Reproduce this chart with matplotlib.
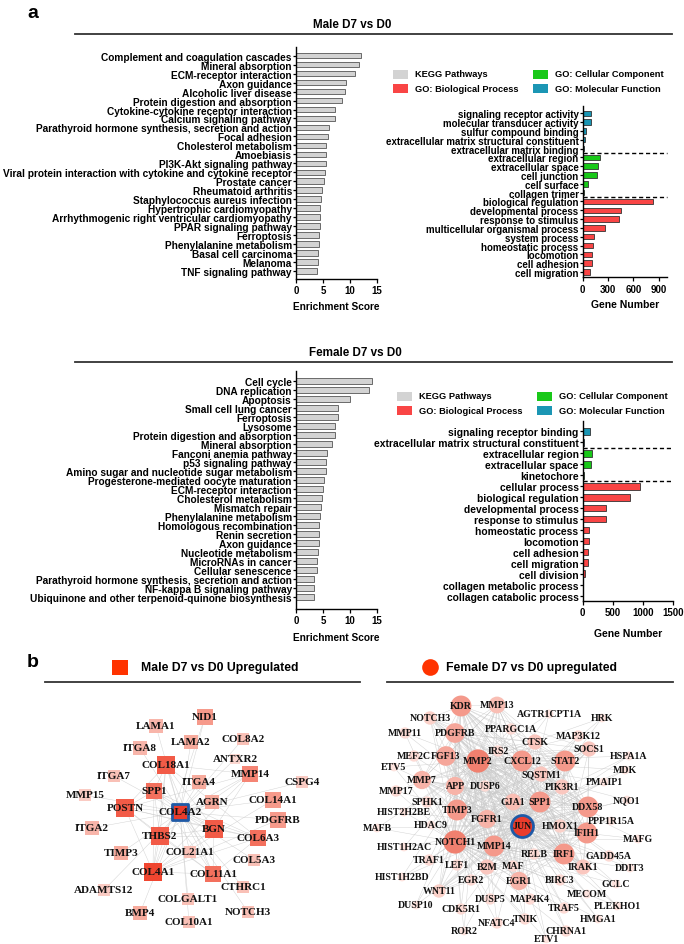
import numpy as np
import matplotlib
matplotlib.use('Agg')
import matplotlib.pyplot as plt
from matplotlib.patches import Rectangle
from matplotlib.collections import LineCollection
from matplotlib.colors import LinearSegmentedColormap

W, H = 684, 945

# ---------------- data: panel a ----------------
male_kegg = ["Complement and coagulation cascades", "Mineral absorption", "ECM-receptor interaction",
             "Axon guidance", "Alcoholic liver disease", "Protein digestion and absorption",
             "Cytokine-cytokine receptor interaction", "Calcium signaling pathway",
             "Parathyroid hormone synthesis, secretion and action", "Focal adhesion",
             "Cholesterol metabolism", "Amoebiasis", "PI3K-Akt signaling pathway",
             "Viral protein interaction with cytokine and cytokine receptor", "Prostate cancer",
             "Rheumatoid arthritis", "Staphylococcus aureus infection", "Hypertrophic cardiomyopathy",
             "Arrhythmogenic right ventricular cardiomyopathy", "PPAR signaling pathway", "Ferroptosis",
             "Phenylalanine metabolism", "Basal cell carcinoma", "Melanoma", "TNF signaling pathway"]
male_kegg_score = [12.1, 11.6, 10.9, 9.2, 9.1, 8.6, 7.3, 7.3, 6.1, 6.0, 5.6, 5.6, 5.5, 5.3, 5.1,
                   4.8, 4.7, 4.5, 4.5, 4.5, 4.3, 4.2, 4.15, 4.0, 3.9]

female_kegg = ["Cell cycle", "DNA replication", "Apoptosis", "Small cell lung cancer", "Ferroptosis",
               "Lysosome", "Protein digestion and absorption", "Mineral absorption",
               "Fanconi anemia pathway", "p53 signaling pathway",
               "Amino sugar and nucleotide sugar metabolism", "Progesterone-mediated oocyte maturation",
               "ECM-receptor interaction", "Cholesterol metabolism", "Mismatch repair",
               "Phenylalanine metabolism", "Homologous recombination", "Renin secretion",
               "Axon guidance", "Nucleotide metabolism", "MicroRNAs in cancer", "Cellular senescence",
               "Parathyroid hormone synthesis, secretion and action", "NF-kappa B signaling pathway",
               "Ubiquinone and other terpenoid-quinone biosynthesis"]
female_kegg_score = [14.1, 13.5, 10.0, 7.75, 7.7, 7.3, 7.25, 6.6, 5.8, 5.6, 5.6, 5.1, 5.0, 4.9, 4.7,
                     4.5, 4.3, 4.3, 4.3, 4.0, 3.85, 3.8, 3.4, 3.4, 3.3]

male_go = ["signaling receptor activity", "molecular transducer activity", "sulfur compound binding",
           "extracellular matrix structural constituent", "extracellular matrix binding",
           "extracellular region", "extracellular space", "cell junction", "cell surface",
           "collagen trimer", "biological regulation", "developmental process", "response to stimulus",
           "multicellular organismal process", "system process", "homeostatic process", "locomotion",
           "cell adhesion", "cell migration"]
male_go_count = [95, 95, 43, 32, 12, 200, 185, 175, 67, 12, 837, 454, 430, 260, 138, 126, 115, 110, 91]
male_go_type = ["MF"] * 5 + ["CC"] * 5 + ["BP"] * 9

female_go = ["signaling receptor binding", "extracellular matrix structural constituent",
             "extracellular region", "extracellular space", "kinetochore", "cellular process",
             "biological regulation", "developmental process", "response to stimulus",
             "homeostatic process", "locomotion", "cell adhesion", "cell migration", "cell division",
             "collagen metabolic process", "collagen catabolic process"]
female_go_count = [122, 22, 160, 144, 22, 957, 791, 393, 393, 110, 100, 94, 83, 44, 3, 2]
female_go_type = ["MF"] * 2 + ["CC"] * 3 + ["BP"] * 11

colors = {"KEGG": "#d3d3d3", "BP": "#f94545", "CC": "#19c819", "MF": "#1b96b4"}
legend_names = [("KEGG", "KEGG Pathways"), ("BP", "GO: Biological Process"),
                ("CC", "GO: Cellular Component"), ("MF", "GO: Molecular Function")]

# ---------------- data: panel b (network layouts) ----------------
male_genes = ["COL4A2", "NID1", "LAMA1", "COL8A2", "LAMA2", "ITGA8", "ANTXR2", "COL18A1", "MMP14",
              "ITGA7", "CSPG4", "ITGA4", "SPP1", "MMP15", "COL14A1", "AGRN", "POSTN", "PDGFRB",
              "ITGA2", "BGN", "THBS2", "COL6A3", "TIMP3", "COL21A1", "COL5A3", "COL4A1", "COL11A1",
              "CTHRC1", "ADAMTS12", "COLGALT1", "BMP4", "NOTCH3", "COL10A1"]
male_x = [180, 205, 156, 243, 191, 140, 235, 166, 250, 114, 302, 199, 154, 85, 273, 212, 125, 278,
          92, 214, 160, 258, 121, 190, 254, 153, 213, 243, 104, 188, 140, 248, 189]
male_y = [813, 718, 727, 740, 743, 749, 760, 766, 775, 777, 783, 783, 792, 796, 801, 803, 809, 821,
          829, 830, 837, 839, 854, 853, 861, 873, 875, 888, 891, 900, 914, 913, 923]
male_deg = [12, 6, 4, 3, 5, 4, 1, 9, 7, 3, 2, 5, 8, 2, 6, 5, 9, 6, 4, 9, 9, 8, 5, 3, 3, 10, 8, 3,
            2, 3, 5, 3, 3]

female_genes = ["JUN", "KDR", "MMP13", "NOTCH3", "AGTR1CPT1A", "HRK", "MMP11", "PDGFRB", "PPARGC1A",
                "MAP3K12", "CTSK", "SOCS1", "IRS2", "MEF2C", "FGF13", "MMP2", "CXCL12", "STAT2",
                "HSPA1A", "ETV5", "MDK", "SQSTM1", "MMP7", "APP", "DUSP6", "PIK3R1", "PMAIP1",
                "MMP17", "NQO1", "SPHK1", "GJA1", "SPP1", "DDX58", "HIST2H2BE", "TIMP3", "FGFR1",
                "PPP1R15A", "MAFB", "HDAC9", "HMOX1", "IFIH1", "MAFG", "NOTCH1", "MMP14",
                "HIST1H2AC", "RELB", "IRF1", "GADD45A", "TRAF1", "LEF1", "B2M", "MAF", "IRAK1",
                "DDIT3", "HIST1H2BD", "EGR2", "EGR1", "BIRC3", "GCLC", "WNT11", "MECOM", "DUSP5",
                "MAP4K4", "DUSP10", "CDK5R1", "TRAF5", "PLEKHO1", "TNIK", "HMGA1", "NFATC4", "ROR2",
                "CHRNA1", "ETV1"]
female_x = [522, 461, 497, 430, 549, 602, 405, 455, 511, 578, 535, 589, 498, 414, 446, 478, 522,
            565, 629, 394, 625, 541, 422, 455, 485, 562, 604, 396, 627, 427, 513, 540, 588, 404,
            457, 487, 611, 377, 431, 560, 587, 638, 455, 494, 404, 534, 564, 609, 429, 457, 487,
            513, 583, 630, 402, 471, 519, 560, 616, 439, 587, 490, 530, 416, 461, 564, 617, 525,
            598, 497, 464, 566, 546]
female_y = [827, 707, 706, 719, 715, 719, 734, 734, 730, 737, 743, 750, 752, 757, 757, 762, 762,
            762, 757, 768, 771, 775, 781, 787, 787, 788, 783, 792, 801, 803, 803, 803, 808, 813,
            811, 820, 822, 829, 826, 827, 834, 840, 843, 847, 848, 855, 855, 857, 861, 866, 868,
            867, 868, 869, 878, 881, 882, 881, 885, 892, 895, 900, 900, 906, 910, 909, 907, 920,
            920, 924, 932, 932, 940]
female_deg = [12, 8, 5, 3, 1, 1, 2, 7, 2, 2, 4, 4, 2, 2, 7, 10, 8, 8, 1, 1, 1, 4, 6, 6, 2, 4, 1,
              2, 1, 2, 5, 8, 8, 1, 8, 6, 1, 1, 1, 3, 8, 1, 10, 8, 1, 2, 8, 2, 2, 2, 4, 2, 4, 1, 1,
              2, 6, 2, 1, 3, 1, 2, 2, 1, 2, 2, 1, 2, 1, 2, 1, 2, 1]

sans = ['Liberation Sans', 'DejaVu Sans']
serif = ['Liberation Serif', 'DejaVu Serif']
plt.rcParams['font.family'] = sans
plt.rcParams['font.weight'] = 'bold'


def box(x0, y0, x1, y1):
    return [x0 / W, 1 - y1 / H, (x1 - x0) / W, (y1 - y0) / H]


def fx(x):
    return x / W


def fy(y):
    return 1 - y / H


def style_axes(ax, label_size):
    for s in ['top', 'right']:
        ax.spines[s].set_visible(False)
    for s in ['left', 'bottom']:
        ax.spines[s].set_linewidth(1.0)
    ax.tick_params(axis='y', length=2.5, width=0.9, pad=0.5, labelsize=label_size)
    ax.tick_params(axis='x', length=3, width=0.9, pad=1.5, labelsize=7.0)
    for t in ax.get_xticklabels() + ax.get_yticklabels():
        t.set_fontweight('bold')


def kegg_plot(rect, terms, scores, ylim, xlabel_pad):
    ax = fig.add_axes(box(*rect))
    y = np.arange(len(terms))
    ax.barh(y, scores, height=0.62, color=colors["KEGG"], edgecolor='#555555', linewidth=0.6)
    ax.set_yticks(y)
    ax.set_yticklabels(terms)
    ax.set_ylim(*ylim)
    ax.set_xlim(0, 15)
    ax.set_xticks([0, 5, 10, 15])
    ax.set_xlabel("Enrichment Score", fontsize=7.3, fontweight='bold', labelpad=xlabel_pad)
    style_axes(ax, 7.3)
    return ax


def go_plot(rect, terms, counts, types, ylim, xmax, xticks, breaks, xlabel_pad, label_size):
    ax = fig.add_axes(box(*rect))
    y = np.arange(len(terms))
    ax.barh(y, counts, height=0.62, color=[colors[t] for t in types], edgecolor='#333333',
            linewidth=0.6)
    for b in breaks:
        ax.axhline(b, color='black', lw=1.0, ls=(0, (3, 2)), clip_on=False)
    ax.set_yticks(y)
    ax.set_yticklabels(terms)
    ax.set_ylim(*ylim)
    ax.set_xlim(0, xmax)
    ax.set_xticks(xticks)
    ax.set_xlabel("Gene Number", fontsize=7.5, fontweight='bold', labelpad=xlabel_pad)
    style_axes(ax, label_size)
    return ax


def legend(x0, x1, y0):
    # two columns, two rows
    for i, (key, name) in enumerate(legend_names):
        col, row = divmod(i, 2)
        xx = x0 if col == 0 else x1
        yy = y0 + row * 14.5
        fig.add_artist(Rectangle((fx(xx), fy(yy + 4.5)), 15 / W, 9 / H, transform=fig.transFigure,
                                 facecolor=colors[key], edgecolor='none'))
        fig.text(fx(xx + 22), fy(yy), name, fontsize=6.7, fontweight='bold', va='center', ha='left')


def header(text, y_text, y_line, x0, x1, x_text):
    fig.text(fx(x_text), fy(y_text), text, fontsize=8.4, fontweight='bold',
             ha='center', va='center')
    fig.add_artist(plt.Line2D([fx(x0), fx(x1)], [fy(y_line)] * 2, color='#333333', lw=1.3,
                              transform=fig.transFigure))


fig = plt.figure(figsize=(W / 100, H / 100), dpi=100)

# ---------------- panel a ----------------
fig.text(fx(27), fy(13), "a", fontsize=14, fontweight='bold', ha='left', va='center')
header("Male D7 vs D0", 25, 34.5, 75, 672, 352)
kegg_plot((296, 48, 377, 280), male_kegg, male_kegg_score, (24.9, -0.97), 4)
go_plot((582.7, 106.7, 667, 278.3), male_go, male_go_count, male_go_type, (18.6, -0.86),
        1000, [0, 300, 600, 900], [4.5, 9.5], 4, 7.0)
legend(393, 533, 75)

header("Female D7 vs D0", 353, 363, 75, 672, 355)
kegg_plot((296, 372, 377, 610), female_kegg, female_kegg_score, (25.3, -1.08), 5)
go_plot((582.7, 421.7, 673, 601.7), female_go, female_go_count, female_go_type, (15.45, -0.97),
        1500, [0, 500, 1000, 1500], [1.5, 4.5], 8, 7.35)
legend(397, 537, 397)

# ---------------- panel b ----------------
fig.text(fx(27), fy(663), "b", fontsize=14, fontweight='bold', ha='left', va='center')
fig.add_artist(Rectangle((fx(112), fy(676)), 16 / W, 15 / H, transform=fig.transFigure,
                         facecolor='#ff3300', edgecolor='none'))
fig.text(fx(141), fy(668), "Male D7 vs D0 Upregulated", fontsize=8.8, fontweight='bold',
         va='center')
fig.add_artist(plt.Line2D([fx(45), fx(360)], [fy(683)] * 2, color='#333333', lw=1.3,
                          transform=fig.transFigure))
fig.add_artist(plt.Line2D([fx(430)], [fy(668)], marker='o', markersize=12, color='#ff3300',
                          markeredgewidth=0, transform=fig.transFigure))
fig.text(fx(446), fy(668), "Female D7 vs D0 upregulated", fontsize=8.8, fontweight='bold',
         va='center')
fig.add_artist(plt.Line2D([fx(387), fx(673)], [fy(683)] * 2, color='#333333', lw=1.3,
                          transform=fig.transFigure))


def network(rect, genes, xs, ys, deg, marker, cmap, smin, smax, thresh, fontsize, hub_size, hub_lw):
    ax = fig.add_axes(box(*rect))
    ax.set_xlim(rect[0], rect[2])
    ax.set_ylim(rect[3], rect[1])
    ax.axis('off')
    xs = np.array(xs, float)
    ys = np.array(ys, float)
    deg = np.array(deg, float)
    # edges: hub to all, plus links among well connected genes
    segs = []
    for i in range(1, len(genes)):
        segs.append([(xs[0], ys[0]), (xs[i], ys[i])])
        for j in range(i + 1, len(genes)):
            if deg[i] + deg[j] >= thresh:
                segs.append([(xs[i], ys[i]), (xs[j], ys[j])])
    ax.add_collection(LineCollection(segs, colors='#c9c9c9', linewidths=0.35, alpha=0.8, zorder=1))
    d = deg[1:]
    sizes = smin + (smax - smin) * (d - 1) / 9.0
    ax.scatter(xs[1:], ys[1:], s=sizes, marker=marker, c=cmap((d - 1) / 9.0), edgecolors='none',
               zorder=2)
    ax.scatter(xs[:1], ys[:1], s=hub_size, marker=marker, c='#ea3c2c', edgecolors='#1f5aa6',
               linewidths=hub_lw, zorder=3)
    for g, x, y in zip(genes, xs, ys):
        ax.text(x, y, g, fontsize=fontsize, fontweight='bold', family=serif, ha='center',
                va='center', color='#111111', zorder=4)
    return ax


male_cmap = LinearSegmentedColormap.from_list('m', ['#fbd6cf', '#f7a597', '#f04630'])
female_cmap = LinearSegmentedColormap.from_list('f', ['#fde3de', '#f8b9af', '#f0806f'])
network((40, 695, 340, 945), male_genes, male_x, male_y, male_deg, 's', male_cmap,
        55, 175, 16, 8.0, 140, 2.0)
network((360, 695, 684, 945), female_genes, female_x, female_y, female_deg, 'o', female_cmap,
        40, 280, 11, 7.1, 250, 2.0)

fig.savefig('out.png', dpi=100)
